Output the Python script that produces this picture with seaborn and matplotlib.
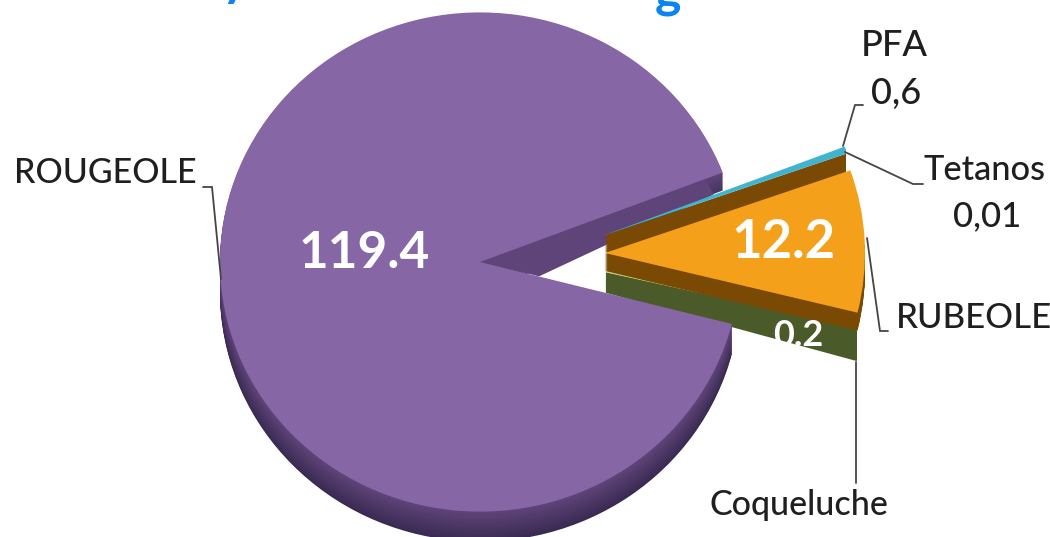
import matplotlib
matplotlib.use('Agg')
import matplotlib.pyplot as plt
from matplotlib.path import Path
import seaborn as sns

# values
labels = ['ROUGEOLE', 'Coqueluche', 'RUBEOLE', 'Tetanos', 'PFA']
values = [119.4, 0.2, 12.2, 0.01, 0.6]
value_text = ['119.4', '0.2', '12.2', '0,01', '0,6']

sns.set_theme(style='white')
plt.rcParams['font.family'] = ['Lato', 'DejaVu Sans']

W, H = 1050, 537
SQUASH = 0.96   # pie is slightly flattened
R = 260
START = 21

fig = plt.figure(figsize=(W / 100, H / 100), dpi=100)
ax = fig.add_axes([0, 0, 1, 1])


def yd(py):
    # pixel row to data y
    return (H - py) / SQUASH


def draw_slice(i, px, py, col, tilt=0, clip=None, lw=0):
    wedges, _ = ax.pie(values, startangle=START + tilt, radius=R, center=(px, yd(py)),
                       colors=[col] * len(values),
                       wedgeprops={'linewidth': lw, 'edgecolor': col})
    for j, w in enumerate(wedges):
        if j != i:
            w.remove()
    if clip is not None:
        # pie wedges come with clipping switched off
        pts = [(x, yd(y)) for x, y in clip]
        wedges[i].set_clip_on(True)
        wedges[i].set_clip_path(Path(pts + pts[:1], closed=True), ax.transData)
    return wedges[i]


def left_of(x):
    return [(0, 0), (x, 0), (x, H), (0, H)]


# clip shapes, in picture pixels
notch = [(480, 262), (W, 42), (W, 400)]
no_notch = [(0, 0), (W, 0), (W, 42), (480, 262), (W, 400), (W, H), (0, H)]
below_245 = [(0, 245), (W, 245), (W, H), (0, H)]

# green slice goes first, the big one overlaps it. the wall opens up towards the rim
green_side = '#4a5a28'
GREEN_DEPTH = 20
for d in range(GREEN_DEPTH, 0, -1):
    t = 1.45 - 2.9 * d / GREEN_DEPTH
    draw_slice(1, 606, 272 + d, green_side, tilt=t, lw=1.2, clip=left_of(857))
draw_slice(1, 606, 272, '#c6d66c', tilt=1.45, lw=0.6, clip=left_of(857))

# big purple slice with its rim
rim = sns.blend_palette(['#5e4478', '#3a2a52'], 30)
for d in range(30, 0, -1):
    draw_slice(0, 480, 262 + d, rim[d - 1], clip=no_notch if d > 18 else None)
# inner wall of the notch, wider near the middle of the pie
draw_slice(0, 480, 304, '#5e4478', tilt=5, clip=notch)
draw_slice(0, 480, 262, '#8666a5')

# orange slice, brown wall above and below
brown = '#7a4a05'
for d in range(18, 0, -1):
    draw_slice(2, 605, 253 + d, brown, clip=below_245)
    draw_slice(2, 605, 253 - d, brown, clip=left_of(846))
draw_slice(2, 605, 253, '#f5a01a')

# the two thin ones on top of the brown wall
draw_slice(3, 602, 236, '#4a4a3a', clip=left_of(846))
draw_slice(4, 602, 236, '#3fb4cf', clip=left_of(846))

ax.set_aspect('auto')
ax.set_xlim(0, W)
ax.set_ylim(0, H / SQUASH)
ax.axis('off')

# leader lines
line_col = '#454545'
leaders = [
    ([203, 212, 221], [187, 187, 279]),
    ([863, 855, 843], [105, 105, 146]),
    ([845, 913, 923], [152, 184, 184]),
    ([867, 880, 888], [238, 331, 331]),
    ([856, 856], [362, 483]),
]
for xs, ys in leaders:
    ax.plot(xs, [yd(p) for p in ys], color=line_col, lw=1.3, solid_joinstyle='miter')

# labels
dark = '#1f1f1f'
ax.text(105, yd(173), labels[0], ha='center', va='center', fontsize=24.5, color=dark, fontweight='medium')
ax.text(799, yd(505), labels[1], ha='center', va='center', fontsize=24.5, color=dark, fontweight='medium')
ax.text(974, yd(318), labels[2], ha='center', va='center', fontsize=25, color=dark, fontweight='medium')
ax.text(984, yd(170), labels[3], ha='center', va='center', fontsize=24.8, color=dark, fontweight='medium')
ax.text(894, yd(46), labels[4], ha='center', va='center', fontsize=26, color=dark, fontweight='medium')
ax.text(987, yd(216), value_text[3], ha='center', va='center', fontsize=25, color=dark, fontweight='medium')
ax.text(896, yd(93), value_text[4], ha='center', va='center', fontsize=26, color=dark, fontweight='medium')

ax.text(364, yd(254), value_text[0], ha='center', va='center', fontsize=37,
        fontweight='bold', color='white')
ax.text(784, yd(243), value_text[2], ha='center', va='center', fontsize=38,
        fontweight='bold', color='white')
ax.text(798, yd(335), value_text[1], ha='center', va='center', fontsize=26,
        fontweight='bold', color='white')

# bottom of the cut off title
ax.text(235, yd(-18), 'y', ha='center', va='center', fontsize=36, fontweight='bold', color='#0a84f0')
ax.text(668, yd(-7), 'g', ha='center', va='center', fontsize=36, fontweight='bold', color='#0a84f0')

fig.savefig('out.png', dpi=100)
